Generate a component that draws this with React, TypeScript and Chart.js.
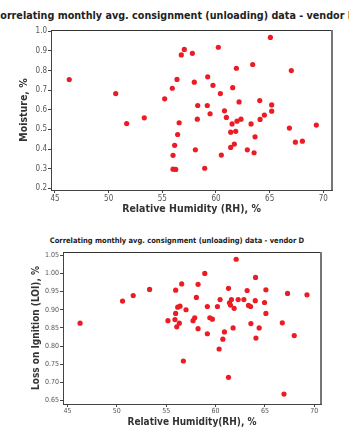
import React, { useEffect, useRef } from "react";
import { Chart, registerables } from "chart.js";

Chart.register(...registerables);

// ---- Data: top chart (Moisture vs RH) ----
const moistureRH = [
  46.33, 50.66, 51.68, 53.32, 55.22, 55.93, 56.37, 56.77, 57.05, 57.8,
  60.22, 65.07, 63.42, 61.9, 67.02, 59.23, 57.98, 59.72, 61.56, 60.41,
  62.15, 64.08, 58.3, 59.19, 65.19, 60.79, 59.45, 65.19, 60.97, 64.51,
  62.33, 64.11, 58.26, 61.96, 56.57, 61.5, 63.27, 66.84, 69.35, 61.37,
  61.84, 56.43, 63.64, 67.4, 68.05, 61.71, 61.37, 56.15, 58.08, 62.92,
  63.55, 60.5, 56.0, 58.95, 56.0, 56.25,
];
const moisture = [
  0.754, 0.683, 0.53, 0.559, 0.656, 0.71, 0.755, 0.88, 0.908, 0.888,
  0.919, 0.969, 0.831, 0.812, 0.8, 0.768, 0.741, 0.725, 0.713, 0.683,
  0.64, 0.647, 0.622, 0.622, 0.625, 0.595, 0.58, 0.593, 0.561, 0.573,
  0.552, 0.551, 0.552, 0.542, 0.534, 0.528, 0.528, 0.507, 0.522, 0.486,
  0.49, 0.474, 0.462, 0.435, 0.44, 0.425, 0.408, 0.419, 0.396, 0.396,
  0.381, 0.369, 0.368, 0.302, 0.297, 0.296,
];

// ---- Data: bottom chart (LOI vs RH) ----
const loiRH = [
  46.28, 50.58, 51.66, 53.32, 55.18, 55.96, 55.96, 55.89, 56.07, 56.17,
  56.4, 56.33, 57.01, 56.57, 56.74, 57.72, 57.89, 58.06, 58.23, 58.23,
  58.91, 59.17, 59.17, 59.42, 59.68, 60.19, 60.36, 60.46, 60.74, 60.9,
  61.31, 61.31, 61.41, 61.51, 61.61, 61.78, 61.88, 62.09, 62.29, 62.87,
  63.2, 63.34, 63.55, 63.58, 64.02, 64.05, 64.09, 64.42, 64.96, 65.1,
  65.1, 66.76, 66.93, 67.29, 67.97, 69.26,
];
const loi = [
  0.863, 0.924, 0.939, 0.956, 0.87, 0.954, 0.89, 0.873, 0.853, 0.907,
  0.91, 0.863, 0.9, 0.971, 0.759, 0.87, 0.878, 0.934, 0.97, 0.848,
  1.0, 0.909, 0.834, 0.878, 0.874, 0.909, 0.792, 0.928, 0.819, 0.839,
  0.959, 0.714, 0.919, 0.913, 0.928, 0.85, 0.904, 1.039, 0.928, 0.928,
  0.953, 0.912, 0.909, 0.862, 0.925, 0.989, 0.822, 0.85, 0.92, 0.955,
  0.89, 0.864, 0.668, 0.945, 0.829, 0.941,
];

// ---- Tick labels ----
const xTicks = [45, 50, 55, 60, 65, 70];
const moistureTicks = [0.2, 0.3, 0.4, 0.5, 0.6, 0.7, 0.8, 0.9, 1.0];
const loiTicks = [0.65, 0.7, 0.75, 0.8, 0.85, 0.9, 0.95, 1.0, 1.05];

const FONT = "'DejaVu Sans Condensed', 'DejaVu Sans', sans-serif";
const TITLE_TEXT = "Correlating monthly avg. consignment (unloading) data - vendor D";

const framePlugin = {
  id: "frame",
  afterDraw(chart: any) {
    const { ctx, chartArea } = chart;
    const { left, top, right, bottom } = chartArea;
    ctx.save();
    ctx.strokeStyle = "#333";
    ctx.lineWidth = 1;
    ctx.beginPath();
    ctx.moveTo(left, top + 0.5);
    ctx.lineTo(right, top + 0.5);
    ctx.stroke();
    ctx.strokeStyle = "#777";
    ctx.lineWidth = 2;
    ctx.beginPath();
    ctx.moveTo(right, top);
    ctx.lineTo(right, bottom);
    ctx.stroke();
    ctx.restore();
  },
};

type Props = {
  xs: number[];
  ys: number[];
  yTicks: number[];
  yDigits: number;
  xMin: number;
  xMax: number;
  yMin: number;
  yMax: number;
  xTitle: string;
  yTitle: string;
  pad: { left: number; right: number; top: number; bottom: number };
  yWidth: number;
  xHeight: number;
  tickSize: number;
  titleSize: number;
  xTitlePad: number;
  xTickPad: number;
  width: number;
  height: number;
  style: React.CSSProperties;
};

function Scatter(p: Props) {
  const ref = useRef<HTMLCanvasElement | null>(null);
  useEffect(() => {
    if (!ref.current) return;
    const chart = new Chart(ref.current, {
      type: "scatter",
      data: {
        datasets: [
          {
            data: p.xs.map((x, i) => ({ x, y: p.ys[i] })),
            backgroundColor: "#ec1c24",
            borderColor: "#ec1c24",
            borderWidth: 0,
            pointRadius: 2.6,
          },
        ],
      },
      options: {
        animation: false,
        responsive: false,
        maintainAspectRatio: false,
        layout: { padding: p.pad },
        plugins: {
          legend: { display: false },
          tooltip: { enabled: false },
          title: { display: false },
        },
        scales: {
          x: {
            type: "linear",
            min: p.xMin,
            max: p.xMax,
            afterBuildTicks: (s: any) => {
              s.ticks = xTicks.map((v) => ({ value: v }));
            },
            afterFit: (s: any) => {
              s.height = p.xHeight;
            },
            border: { display: true, color: "#444", width: 1 },
            grid: {
              drawOnChartArea: false,
              drawTicks: true,
              tickLength: 3,
              color: "#444",
            },
            ticks: {
              autoSkip: false,
              maxRotation: 0,
              padding: p.xTickPad,
              color: "#555",
              font: { family: FONT, size: p.tickSize },
              callback: (v: any) => String(v),
            },
            title: {
              display: true,
              text: p.xTitle,
              color: "#333",
              font: { family: FONT, size: p.titleSize, weight: "bold" },
              padding: { top: 0, bottom: p.xTitlePad },
            },
          },
          y: {
            type: "linear",
            min: p.yMin,
            max: p.yMax,
            afterBuildTicks: (s: any) => {
              s.ticks = p.yTicks.map((v) => ({ value: v }));
            },
            afterFit: (s: any) => {
              s.width = p.yWidth;
            },
            border: { display: true, color: "#444", width: 1 },
            grid: {
              drawOnChartArea: false,
              drawTicks: true,
              tickLength: 3,
              color: "#444",
            },
            ticks: {
              autoSkip: false,
              padding: 1,
              color: "#555",
              font: { family: FONT, size: p.tickSize },
              callback: (v: any) => Number(v).toFixed(p.yDigits),
            },
            title: {
              display: true,
              text: p.yTitle,
              color: "#333",
              font: { family: FONT, size: p.titleSize, weight: "bold" },
              padding: { top: 4, bottom: 0 },
            },
          },
        },
      },
      plugins: [framePlugin],
    });
    return () => chart.destroy();
  }, []);
  return (
    <canvas
      ref={ref}
      width={p.width}
      height={p.height}
      style={{ position: "absolute", width: p.width, height: p.height, ...p.style }}
    />
  );
}

export default function App() {
  return (
    <div
      style={{
        position: "fixed",
        left: 0,
        top: 0,
        width: 349,
        height: 428,
        background: "#fff",
        overflow: "hidden",
      }}
    >
      <div
        style={{
          position: "absolute",
          left: 0,
          top: 10,
          width: 349,
          height: 13,
          display: "flex",
          justifyContent: "center",
          whiteSpace: "nowrap",
          fontFamily: FONT,
          fontWeight: "bold",
          fontSize: 10.7,
          lineHeight: "12px",
          color: "#222",
        }}
      >
        <span style={{ flex: "none", marginLeft: 0 }}>{TITLE_TEXT}</span>
      </div>
      <Scatter
        xs={moistureRH}
        ys={moisture}
        yTicks={moistureTicks}
        yDigits={1}
        xMin={44.63}
        xMax={70.81}
        yMin={0.191}
        yMax={1.007}
        xTitle="Relative Humidity (RH), %"
        yTitle="Moisture, %"
        pad={{ left: 14, right: 17, top: 8, bottom: 0 }}
        yWidth={37}
        xHeight={32}
        tickSize={8}
        titleSize={10.5}
        xTitlePad={6}
        xTickPad={1}
        width={349}
        height={200}
        style={{ left: 0, top: 22 }}
      />
      <div
        style={{
          position: "absolute",
          left: 0,
          top: 236,
          width: 349,
          height: 10,
          display: "flex",
          justifyContent: "center",
          whiteSpace: "nowrap",
          fontFamily: FONT,
          fontWeight: "bold",
          fontSize: 7.5,
          lineHeight: "10px",
          color: "#222",
        }}
      >
        <span style={{ flex: "none", marginLeft: 5 }}>{TITLE_TEXT}</span>
      </div>
      <Scatter
        xs={loiRH}
        ys={loi}
        yTicks={loiTicks}
        yDigits={2}
        xMin={44.55}
        xMax={70.68}
        yMin={0.6406}
        yMax={1.059}
        xTitle="Relative Humidity(RH), %"
        yTitle="Loss on Ignition (LOI), %"
        pad={{ left: 26, right: 28, top: 24, bottom: 0 }}
        yWidth={37}
        xHeight={24}
        tickSize={7}
        titleSize={10}
        xTitlePad={0}
        xTickPad={0}
        width={349}
        height={200}
        style={{ left: 0, top: 228 }}
      />
    </div>
  );
}
